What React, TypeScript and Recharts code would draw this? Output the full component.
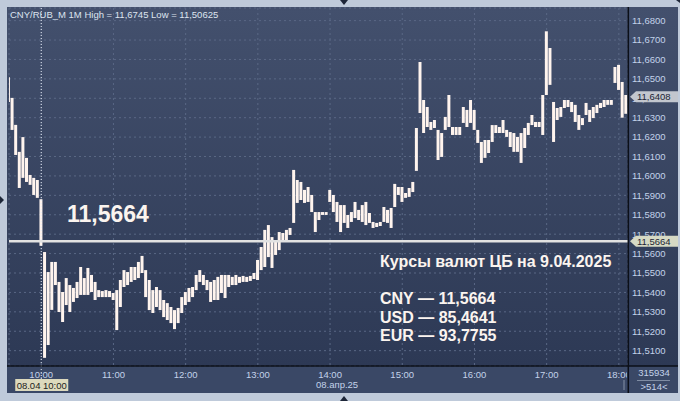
import React from 'react';
import { ComposedChart, Bar, XAxis, YAxis, CartesianGrid, ReferenceLine } from 'recharts';

// minute of day (3-minute buckets), 08.04.2025 session
const minutes = [
  573, 576, 579, 582, 585, 588, 591, 594, 597,
  600, 603, 606, 609, 612, 615, 618, 621, 624, 627, 630, 633, 636, 639, 642, 645, 648, 651, 654, 657,
  660, 663, 666, 669, 672, 675, 678, 681, 684, 687, 690, 693, 696, 699, 702, 705, 708, 711, 714, 717,
  720, 723, 726, 729, 732, 735, 738, 741, 744, 747, 750, 753, 756, 759, 762, 765, 768, 771, 774, 777,
  780, 783, 786, 789, 792, 795, 798, 801, 804, 807, 810, 813, 816, 819, 822, 825, 828, 831, 834, 837,
  840, 843, 846, 849, 852, 855, 858, 861, 864, 867, 870, 873, 876, 879, 882, 885, 888, 891, 894, 897,
  900, 903, 906, 909, 912, 915, 918, 921, 924, 927, 930, 933, 936, 939, 942, 945, 948, 951, 954, 957,
  960, 963, 966, 969, 972, 975, 978, 981, 984, 987, 990, 993, 996, 999, 1002, 1005, 1008, 1011, 1014, 1017,
  1020, 1023, 1026, 1029, 1032, 1035, 1038, 1041, 1044, 1047, 1050, 1053, 1056, 1059, 1062, 1065, 1068, 1071, 1074, 1077,
  1080, 1083, 1086,
];

const highs = [
  11.6508, 11.6402, 11.6263, 11.6124, 11.62, 11.6093, 11.6005, 11.599, 11.5979,
  11.588, 11.5608, 11.5505, 11.5557, 11.5557, 11.5454, 11.5402, 11.5474, 11.5438, 11.5423, 11.5454, 11.5531, 11.5474, 11.5526, 11.549, 11.5454, 11.5412, 11.5407, 11.5412, 11.5407,
  11.5397, 11.5412, 11.5464, 11.5515, 11.5505, 11.5531, 11.5531, 11.5557, 11.5588, 11.5515, 11.5464, 11.5412, 11.5428, 11.5412, 11.5361, 11.5345, 11.5325, 11.5309, 11.532, 11.5376,
  11.5402, 11.5423, 11.5428, 11.549, 11.5515, 11.549, 11.5464, 11.5454, 11.5464, 11.548, 11.549, 11.549, 11.549, 11.548, 11.549, 11.548, 11.5485, 11.548, 11.5485, 11.55,
  11.5567, 11.5634, 11.5722, 11.5747, 11.5685, 11.567, 11.5711, 11.5706, 11.5722, 11.5732, 11.6031, 11.5979, 11.5969, 11.5928, 11.5943, 11.5902, 11.5814, 11.5814, 11.5814, 11.5814,
  11.5928, 11.5902, 11.5866, 11.585, 11.585, 11.5799, 11.5814, 11.5866, 11.5825, 11.585, 11.5866, 11.5809, 11.5763, 11.5758, 11.5763, 11.584, 11.5825, 11.5835, 11.5959, 11.5943,
  11.5943, 11.5912, 11.5938, 11.5969, 11.6247, 11.6587, 11.6391, 11.6355, 11.6278, 11.6288, 11.6237, 11.6221, 11.6304, 11.6417, 11.6252, 11.6252, 11.6252, 11.6355, 11.634, 11.6391,
  11.634, 11.6237, 11.6175, 11.6185, 11.6185, 11.6262, 11.6262, 11.6252, 11.6288, 11.6237, 11.6226, 11.6221, 11.6201, 11.6221, 11.6247, 11.6273, 11.6314, 11.6278, 11.6278, 11.6417,
  11.6745, 11.6659, 11.6381, 11.635, 11.6355, 11.6391, 11.6391, 11.6381, 11.6366, 11.6314, 11.6298, 11.6376, 11.634, 11.6355, 11.6366, 11.6376, 11.6391, 11.6391, 11.6391, 11.6561,
  11.6572, 11.6484, 11.6417,
];

const lows = [
  11.6381, 11.6237, 11.6108, 11.5938, 11.599, 11.5969, 11.5954, 11.5902, 11.5887,
  11.564, 11.5063, 11.5129, 11.531, 11.5438, 11.5299, 11.5247, 11.5335, 11.5299, 11.5351, 11.5371, 11.5387, 11.5387, 11.5387, 11.5402, 11.5361, 11.5376, 11.5376, 11.5376, 11.5376,
  11.5361, 11.5206, 11.5325, 11.5428, 11.5438, 11.5454, 11.5464, 11.5474, 11.55, 11.5376, 11.5309, 11.5294, 11.5325, 11.5309, 11.5273, 11.5258, 11.5242, 11.5211, 11.5242, 11.5294,
  11.5335, 11.5351, 11.5376, 11.5412, 11.5454, 11.5438, 11.5412, 11.5351, 11.5361, 11.5361, 11.5397, 11.5371, 11.5428, 11.5438, 11.5438, 11.5449, 11.5454, 11.5454, 11.5459, 11.5469,
  11.5464, 11.5515, 11.5531, 11.5582, 11.5526, 11.5593, 11.5618, 11.567, 11.567, 11.5696, 11.5758, 11.5861, 11.5876, 11.5861, 11.5866, 11.5814, 11.5711, 11.5773, 11.5799, 11.5799,
  11.5866, 11.5814, 11.5763, 11.5711, 11.5758, 11.5732, 11.5763, 11.5783, 11.5773, 11.5763, 11.5747, 11.5758, 11.5732, 11.5737, 11.5742, 11.5763, 11.5758, 11.5732, 11.584, 11.5902,
  11.5866, 11.5887, 11.5892, 11.5917, 11.6026, 11.6324, 11.6221, 11.6252, 11.6237, 11.6247, 11.6082, 11.6098, 11.6237, 11.6252, 11.6211, 11.6211, 11.6211, 11.6273, 11.6252, 11.6273,
  11.6237, 11.617, 11.6067, 11.6093, 11.6118, 11.6175, 11.6221, 11.6221, 11.6221, 11.6201, 11.6149, 11.6124, 11.6124, 11.6067, 11.6144, 11.6211, 11.6262, 11.6252, 11.6252, 11.6211,
  11.6417, 11.6469, 11.6175, 11.6288, 11.6304, 11.635, 11.6355, 11.6329, 11.6278, 11.6237, 11.6262, 11.6314, 11.6278, 11.6298, 11.6324, 11.635, 11.6355, 11.6366, 11.6366, 11.6479,
  11.6443, 11.63, 11.632,
];

const priceTicks = [
  11.51, 11.52, 11.53, 11.54, 11.55, 11.56, 11.57, 11.58, 11.59,
  11.6, 11.61, 11.62, 11.63, 11.64, 11.65, 11.66, 11.67, 11.68,
];
const hourTicks = [600, 660, 720, 780, 840, 900, 960, 1020, 1080];

const cbRate = 11.5664;
const lastPrice = 11.6408;
const cursorMinute = 600;

const rateCodes = ['CNY', 'USD', 'EUR'];
const rateValues = ['11,5664', '85,4641', '93,7755'];

const data = minutes.map((t, i) => ({ t, range: [lows[i], highs[i]] }));

const FONT = '"Liberation Sans", Arial, sans-serif';
const AXIS_TEXT = '#c3d2ea';

const fmtPrice = (v: number) => v.toFixed(4).replace('.', ',');
const fmtTime = (t: number) => `${Math.floor(t / 60)}:${String(t % 60).padStart(2, '0')}`;

const TimeTick = (props: any) => {
  const { x, y, payload } = props;
  return (
    <svg x={0} y={y - 4} width={627} height={16} overflow="hidden">
      <text x={x} y={11.5} textAnchor="middle" fill={AXIS_TEXT} fontSize={9.5} fontFamily={FONT}>
        {fmtTime(payload.value)}
      </text>
    </svg>
  );
};

const PriceTag = (props: any) => {
  const { viewBox, text, fill } = props;
  if (!viewBox) return null;
  const x = viewBox.x + viewBox.width + 2;
  const y = viewBox.y;
  return (
    <g>
      <polygon
        points={`${x},${y} ${x + 6},${y - 5.5} ${x + 48},${y - 5.5} ${x + 48},${y + 5.5} ${x + 6},${y + 5.5}`}
        fill={fill}
      />
      <text x={x + 7} y={y + 3.6} fill="#1c2433" fontSize={9.5} fontFamily={FONT}>
        {text}
      </text>
    </g>
  );
};

const DateTag = (props: any) => {
  const { viewBox } = props;
  if (!viewBox) return null;
  const x = viewBox.x;
  const bottom = viewBox.y + viewBox.height;
  return (
    <g>
      <line x1={x} y1={bottom} x2={x} y2={bottom + 13} stroke="#e8eef8" strokeDasharray="1 2" />
      <rect x={x - 26} y={bottom + 13} width={53} height={12} fill="#dcd9bd" />
      <text x={x + 0.5} y={bottom + 22.5} textAnchor="middle" fill="#1c1c1c" fontSize={9.5} fontFamily={FONT}>
        08.04 10:00
      </text>
    </g>
  );
};

export default function App() {
  return (
    <div style={{ position: 'absolute', left: 0, top: 0, width: 680, height: 401, background: '#bfcada', overflow: 'hidden' }}>
      <div
        style={{
          position: 'absolute', left: 7, top: 7, width: 671, height: 386,
          background: 'linear-gradient(180deg, #43506d 0%, #2d3955 93%)',
        }}
      />
      <div style={{ position: 'absolute', left: 7, top: 366, width: 671, height: 27, background: '#3a4866' }} />
      <div style={{ position: 'absolute', left: 0, top: 0 }}>
        <ComposedChart width={680} height={401} data={data} margin={{ top: 8, right: 0, bottom: 0, left: 9 }}>
          <CartesianGrid stroke="#5a6885" strokeDasharray="2 3" />
          <XAxis
            dataKey="t"
            type="number"
            domain={[573.2, 1087.6]}
            allowDataOverflow
            ticks={hourTicks}
            interval={0}
            height={35}
            tickSize={0}
            tickMargin={4}
            axisLine={false}
            tick={<TimeTick />}
          />
          <YAxis
            orientation="right"
            type="number"
            domain={[11.5021, 11.6865]}
            allowDataOverflow
            ticks={priceTicks}
            interval={0}
            width={52}
            tickSize={0}
            tickMargin={4}
            axisLine={false}
            tickFormatter={fmtPrice}
            tick={{ fill: AXIS_TEXT, fontSize: 9.5, fontFamily: FONT }}
          />
          <Bar dataKey="range" fill="#fff4ee" barSize={3} isAnimationActive={false} />
          <ReferenceLine x={cursorMinute} stroke="#e8eef8" strokeDasharray="1 2" label={<DateTag />} />
          <ReferenceLine
            y={lastPrice}
            stroke="none"
            zIndex={2500}
            label={<PriceTag text={fmtPrice(lastPrice)} fill="#c2c6ce" />}
          />
          <ReferenceLine
            y={cbRate}
            stroke="#e2e2e2"
            strokeWidth={2.5}
            zIndex={2500}
            label={<PriceTag text={fmtPrice(cbRate)} fill="#d6d9c4" />}
          />
        </ComposedChart>
      </div>
      <svg width={680} height={401} style={{ position: 'absolute', left: 0, top: 0, pointerEvents: 'none' }}>
        <line x1={7} y1={366} x2={678} y2={366} stroke="#0b0f18" strokeWidth={1.5} />
        <line x1={628.3} y1={7} x2={628.3} y2={393} stroke="#0b0f18" strokeWidth={1.5} />
        <line x1={624} y1={380} x2={624} y2={390} stroke="#8591a6" />
        <text x={10} y={18} fill="#dde4ef" fontSize={9.5} fontFamily={FONT}>
          CNY/RUB_M 1M High = 11,6745 Low = 11,50625
        </text>
        <text x={316} y={388} fill={AXIS_TEXT} fontSize={9.5} fontFamily={FONT}>08.апр.25</text>
        <text x={654} y={376} textAnchor="middle" fill={AXIS_TEXT} fontSize={9.5} fontFamily={FONT}>315934</text>
        <line x1={637} y1={380.5} x2={670} y2={380.5} stroke="#7f8ca3" />
        <text x={654} y={389.5} textAnchor="middle" fill={AXIS_TEXT} fontSize={9.5} fontFamily={FONT}>&gt;514&lt;</text>
        <text x={67} y={222} fill="#fbf4ef" fontSize={23} fontWeight="bold" fontFamily={FONT}>11,5664</text>
        <text x={380} y={267} fill="#fbf4ef" fontSize={16} fontWeight="bold" fontFamily={FONT}>
          Курсы валют ЦБ на 9.04.2025
        </text>
        {rateCodes.map((code, i) => (
          <text key={code} x={380} y={304 + i * 18.5} fill="#fbf4ef" fontSize={16} fontWeight="bold" fontFamily={FONT}>
            {`${code} — ${rateValues[i]}`}
          </text>
        ))}
        <polygon points="340,0 348,0 344,5" fill="#1d2638" />
        <polygon points="340,401 348,401 344,396" fill="#1d2638" />
        <polygon points="0,196 0,204 4,200" fill="#1d2638" />
        <polygon points="676,0 680,0 680,3" fill="#1d2638" />
      </svg>
    </div>
  );
}
